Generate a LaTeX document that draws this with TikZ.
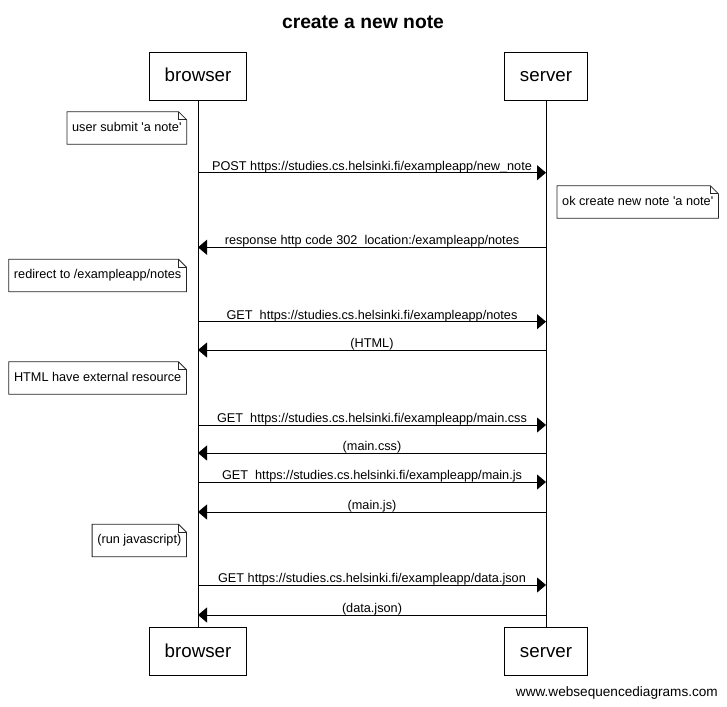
\documentclass[tikz,border=0pt]{standalone}
\usepackage{fontspec}
\setmainfont{Liberation Sans}[Ligatures=TeXOff]
\usetikzlibrary{arrows.meta}

\tikzset{
  actor/.style={draw, line width=0.9bp, minimum height=48bp, inner xsep=15.6bp,
    text height=14bp, text depth=2.6bp,
    font=\fontsize{18.75bp}{22bp}\selectfont},
  lifeline/.style={line width=0.9bp},
  msg/.style={line width=0.9bp, -{Triangle[length=9bp,width=15bp]}},
  lbl/.style={anchor=base, yshift=2.6bp, inner sep=0pt,
    font=\fontsize{12.7bp}{15bp}\selectfont},
  notetext/.style={inner xsep=5bp, inner ysep=0pt, minimum height=32bp,
    text height=9.3bp, text depth=2.7bp,
    font=\fontsize{12.7bp}{15bp}\selectfont},
  noteline/.style={line width=0.8bp, draw=black!85},
}

% note with a folded top-right corner
\newcommand\notebox[4]{%
  \node[notetext, anchor=#3] (#1) at #2 {#4};
  \draw[noteline] (#1.south west) -- (#1.north west) -- ([xshift=-8bp]#1.north east)
    -- ([yshift=-8bp]#1.north east) -- (#1.south east) -- cycle;
  \draw[noteline] ([xshift=-8bp]#1.north east) |- ([yshift=-8bp]#1.north east);
}

\begin{document}
\begin{tikzpicture}[x=1bp, y=-1bp]
  \useasboundingbox[fill=white] (0,0) rectangle (727,707);

  % title
  \node[font=\fontsize{19.3bp}{23bp}\selectfont\bfseries] (title) at (363,22) {create a new note};

  % participants, top and bottom
  \node[actor] (btop) at (198,76) {browser};
  \node[actor] (stop) at (546,76) {server};
  \node[actor] (bbot) at (198,651.5) {browser};
  \node[actor] (sbot) at (546,651.5) {server};

  % lifelines
  \draw[lifeline] (btop) -- (bbot);
  \draw[lifeline] (stop) -- (sbot);

  % message end points on the lifelines
  \foreach \n/\y in {1/172.7, 2/247.3, 3/321.7, 4/350, 5/425, 6/453, 7/482, 8/512, 9/585, 10/615} {
    \coordinate (b\n) at (198,\y);
    \coordinate (s\n) at (546,\y);
  }

  % notes
  \notebox{n1}{(186.7,128)}{east}{user submit 'a note'}
  \notebox{n2}{(557,202)}{west}{ok create new note 'a note'}
  \notebox{n3}{(186.5,275.5)}{east}{redirect to /exampleapp/notes}
  \notebox{n4}{(186.5,378)}{east}{HTML have external resource}
  \notebox{n5}{(186.5,540.5)}{east}{(run javascript)}

  % messages
  \draw[msg] (b1) -- node[lbl] {POST https://studies.cs.helsinki.fi/exampleapp/new\_note} (s1);
  \draw[msg] (s2) -- node[lbl] {response http code 302~ location:/exampleapp/notes} (b2);
  \draw[msg] (b3) -- node[lbl] {GET~ https://studies.cs.helsinki.fi/exampleapp/notes} (s3);
  \draw[msg] (s4) -- node[lbl] {(HTML)} (b4);
  \draw[msg] (b5) -- node[lbl] {GET~ https://studies.cs.helsinki.fi/exampleapp/main.css} (s5);
  \draw[msg] (s6) -- node[lbl] {(main.css)} (b6);
  \draw[msg] (b7) -- node[lbl] {GET~ https://studies.cs.helsinki.fi/exampleapp/main.js} (s7);
  \draw[msg] (s8) -- node[lbl] {(main.js)} (b8);
  \draw[msg] (b9) -- node[lbl] {GET https://studies.cs.helsinki.fi/exampleapp/data.json} (s9);
  \draw[msg] (s10) -- node[lbl] {(data.json)} (b10);

  % footer
  \node[anchor=east, inner sep=0pt, font=\fontsize{13.6bp}{16bp}\selectfont] (footer) at (718,693) {www.websequencediagrams.com};
\end{tikzpicture}
\end{document}
